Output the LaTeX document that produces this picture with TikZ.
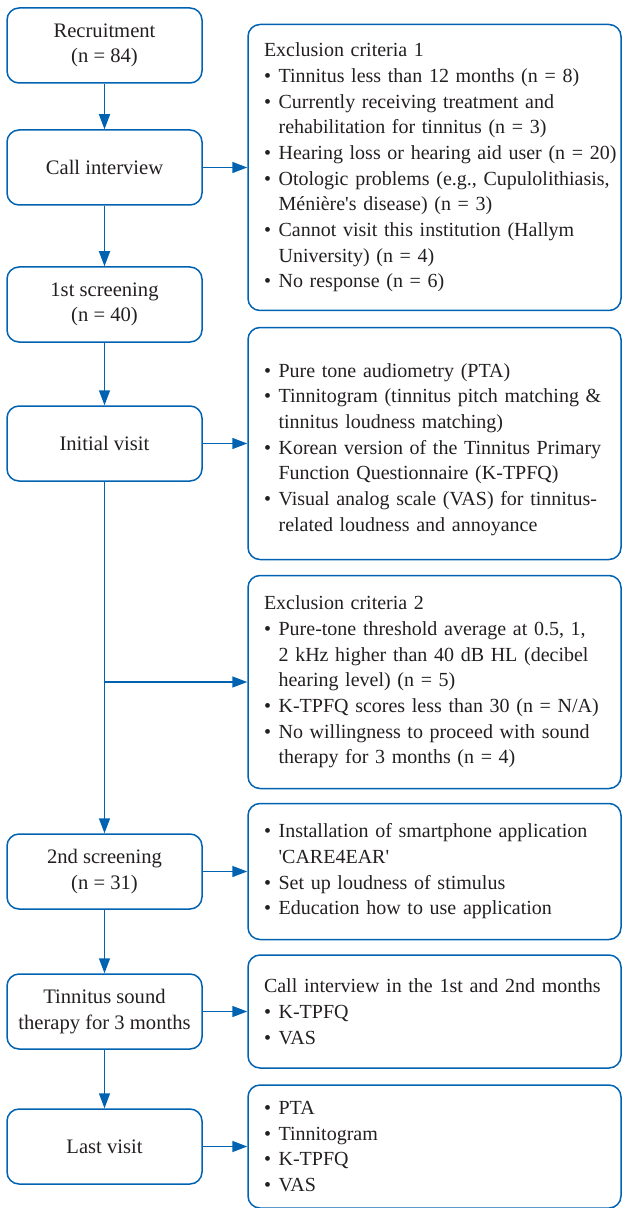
\documentclass[tikz,border=0pt]{standalone}
\usepackage{fontspec}
\setmainfont{Liberation Serif}
\usepackage{tikz}
\usepackage{xcolor}
\usetikzlibrary{positioning}
\usetikzlibrary{arrows.meta}

\definecolor{flow}{RGB}{0,98,177}
\definecolor{txt}{RGB}{35,31,32}
\newcommand{\bitem}{\textbullet\hspace{3.8pt}}
\newcommand{\cont}{\hphantom{\bitem}}

\tikzset{
	stage/.style={draw=flow, line width=0.75pt, rounded corners=6pt, text=txt, align=center, minimum width=97.5pt, minimum height=37.5pt},
	info/.style={draw=flow, line width=0.75pt, rounded corners=6pt, text=txt, align=left, inner xsep=0pt, text width=186.5pt, font=\fontsize{10pt}{12.85pt}\selectfont, execute at begin node={\leftskip=8pt\rightskip=-12pt plus 1fil\hyphenpenalty=10000}},
	arr/.style={draw=flow, line width=0.75pt, -{Triangle[length=7.5pt, width=5.5pt]}}
}

\begin{document}
\begin{tikzpicture}[x=0.5pt, y=-0.5pt, font=\fontsize{10.3pt}{12.85pt}\selectfont]
			\useasboundingbox (0,0) rectangle (622,1208);
			\node[stage] (rec) at (104.5,45.5) {Recruitment\\(n = 84)};
			\node[stage, below=22.75pt of rec] (call) {Call interview};
			\node[stage, below=30.25pt of call] (scr1) {1st screening\\(n = 40)};
			\node[stage, below=31.25pt of scr1] (visit) {Initial visit};
			\node[stage, below=175.75pt of visit] (scr2) {2nd screening\\(n = 31)};
			\node[stage, below=31.75pt of scr2] (ther) {Tinnitus sound\\therapy for 3 months};
			\node[stage, below=29.25pt of ther] (last) {Last visit};
			
			\node[info, minimum height=143pt, right=22.25pt of call] (exc1) {Exclusion criteria 1\\
				\bitem Tinnitus less than 12 months (n = 8)\\
				\bitem Currently receiving treatment and\\
				\cont rehabilitation for tinnitus (n = 3)\\
				\bitem Hearing loss or hearing aid user (n = 20)\\
				\bitem Otologic problems (e.g., Cupulolithiasis,\\
				\cont Ménière\textquotesingle s disease) (n = 3)\\
				\bitem Cannot visit this institution (Hallym\\
				\cont University) (n = 4)\\
				\bitem No response (n = 6)};
			\node[info, minimum height=116pt, right=22.25pt of visit] (tests) {\mbox{}\\
				\bitem Pure tone audiometry (PTA)\\
				\bitem Tinnitogram (tinnitus pitch matching \&\\
				\cont tinnitus loudness matching)\\
				\bitem Korean version of the Tinnitus Primary\\
				\cont Function Questionnaire (K-TPFQ)\\
				\bitem Visual analog scale (VAS) for tinnitus-\\
				\cont related loudness and annoyance};
			\node[info, minimum height=106.5pt, below=7.25pt of tests] (exc2) {Exclusion criteria 2\\
				\bitem Pure-tone threshold average at 0.5, 1,\\
				\cont 2 kHz higher than 40 dB HL (decibel\\
				\cont hearing level) (n = 5)\\
				\bitem K-TPFQ scores less than 30 (n = N/A)\\
				\bitem No willingness to proceed with sound\\
				\cont therapy for 3 months (n = 4)};
			\node[info, minimum height=68pt, right=22.25pt of scr2] (app) {\bitem Installation of smartphone application\\
				\cont \textquotesingle CARE4EAR\textquotesingle\\
				\bitem Set up loudness of stimulus\\
				\bitem Education how to use application};
			\node[info, minimum height=56.5pt, right=22.25pt of ther] (fup) {Call interview in the 1st and 2nd months\\
				\bitem K-TPFQ\\
				\bitem VAS};
			\node[info, minimum height=61.5pt, right=22.25pt of last] (fin) {\bitem PTA\\
				\bitem Tinnitogram\\
				\bitem K-TPFQ\\
				\bitem VAS};
			
			\draw[arr] (rec) -- (call);
			\draw[arr] (call) -- (scr1);
			\draw[arr] (scr1) -- (visit);
			\draw[arr] (visit) -- (scr2);
			\draw[arr] (scr2) -- (ther);
			\draw[arr] (ther) -- (last);
			\draw[arr] (call) -- (exc1);
			\draw[arr] (visit) -- (tests);
			\coordinate (split) at (visit.south |- exc2.west);
			\draw[arr] (split) -- (exc2);
			\draw[arr] (scr2) -- (app);
			\draw[arr] (ther) -- (fup);
			\draw[arr] (last) -- (fin);
		\end{tikzpicture}
\end{document}
